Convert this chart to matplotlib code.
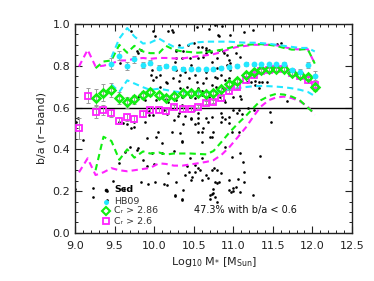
import matplotlib
matplotlib.use("Agg")
import matplotlib.pyplot as plt
from matplotlib.ticker import MultipleLocator

plt.rcParams['font.family'] = ['DejaVu Sans']

# ---------------- data ----------------
mass_bins = [9.05, 9.16, 9.26, 9.36, 9.46, 9.56, 9.66, 9.75, 9.86, 9.95, 10.06,
             10.15, 10.25, 10.36, 10.46, 10.55, 10.66, 10.75, 10.85, 10.95, 11.05,
             11.16, 11.26, 11.35, 11.45, 11.54, 11.64, 11.74, 11.84, 11.94, 12.03]

# C_r > 2.6 (magenta squares), all bins
mag_med = [0.500, 0.657, 0.580, 0.589, 0.573, 0.537, 0.553, 0.547, 0.569, 0.589, 0.590,
           0.584, 0.604, 0.593, 0.593, 0.604, 0.623, 0.628, 0.646, 0.678, 0.699,
           0.731, 0.755, 0.774, 0.781, 0.783, 0.783, 0.764, 0.753, 0.732, 0.707]
mag_err = [0.050, 0.035, 0.030, 0.025, 0.020, 0.018, 0.016, 0.015, 0.013, 0.012, 0.011,
           0.010, 0.010, 0.009, 0.009, 0.008, 0.008, 0.008, 0.008, 0.008, 0.008,
           0.008, 0.008, 0.008, 0.008, 0.008, 0.009, 0.010, 0.012, 0.015, 0.020]
mag_hi = [0.796, 0.876, 0.796, 0.800, 0.810, 0.825, 0.825, 0.833, 0.837, 0.833, 0.837,
          0.837, 0.835, 0.835, 0.840, 0.845, 0.850, 0.855, 0.865, 0.880, 0.890,
          0.895, 0.900, 0.900, 0.900, 0.898, 0.890, 0.880, 0.878, 0.880, 0.810]
mag_lo = [0.290, 0.357, 0.277, 0.290, 0.310, 0.300, 0.295, 0.300, 0.306, 0.311, 0.333,
          0.330, 0.322, 0.322, 0.328, 0.333, 0.340, 0.348, 0.373, 0.410, 0.455,
          0.505, 0.560, 0.605, 0.635, 0.648, 0.652, 0.645, 0.630, 0.605, 0.565]

# C_r > 2.86 (green diamonds), from bin 9.26
grn_med = [0.647, 0.671, 0.684, 0.646, 0.625, 0.640, 0.660, 0.675, 0.659, 0.646,
           0.657, 0.671, 0.668, 0.668, 0.667, 0.668, 0.689, 0.713, 0.729, 0.754,
           0.770, 0.780, 0.783, 0.785, 0.785, 0.767, 0.757, 0.745, 0.697]
grn_err = [0.040, 0.040, 0.035, 0.030, 0.025, 0.022, 0.020, 0.018, 0.016, 0.014,
           0.013, 0.012, 0.011, 0.010, 0.010, 0.010, 0.010, 0.010, 0.010, 0.010,
           0.010, 0.010, 0.010, 0.010, 0.010, 0.011, 0.012, 0.014, 0.020]
grn_hi = [0.788, 0.820, 0.825, 0.900, 0.862, 0.895, 0.868, 0.860, 0.860, 0.895,
          0.876, 0.868, 0.865, 0.862, 0.865, 0.870, 0.876, 0.885, 0.895, 0.900,
          0.902, 0.903, 0.900, 0.895, 0.885, 0.877, 0.877, 0.880, 0.810]
grn_lo = [0.300, 0.460, 0.440, 0.350, 0.400, 0.360, 0.390, 0.380, 0.385, 0.375,
          0.380, 0.380, 0.380, 0.378, 0.376, 0.392, 0.435, 0.480, 0.520, 0.560,
          0.600, 0.635, 0.655, 0.665, 0.662, 0.652, 0.635, 0.600, 0.570]

# HB09 (cyan circles), from bin 9.46
cyn_med = [0.810, 0.847, 0.800, 0.830, 0.805, 0.815, 0.791, 0.800, 0.788, 0.783,
           0.786, 0.782, 0.782, 0.783, 0.790, 0.795, 0.800, 0.806, 0.806, 0.807,
           0.807, 0.807, 0.807, 0.780, 0.770, 0.804, 0.753]
cyn_err = [0.025, 0.022, 0.020, 0.018, 0.015, 0.013, 0.012, 0.010, 0.010, 0.009,
           0.008, 0.008, 0.008, 0.008, 0.008, 0.008, 0.008, 0.008, 0.008, 0.008,
           0.008, 0.008, 0.009, 0.010, 0.012, 0.015, 0.020]
cyn_hi = [0.840, 0.930, 0.980, 0.940, 0.906, 0.910, 0.930, 0.910, 0.890, 0.885,
          0.905, 0.912, 0.915, 0.915, 0.915, 0.915, 0.912, 0.910, 0.910, 0.908,
          0.905, 0.900, 0.895, 0.890, 0.885, 0.885, 0.868]
cyn_lo = [0.710, 0.675, 0.730, 0.715, 0.697, 0.684, 0.690, 0.684, 0.677, 0.672,
          0.671, 0.672, 0.674, 0.675, 0.678, 0.685, 0.692, 0.698, 0.702, 0.703,
          0.702, 0.700, 0.697, 0.692, 0.685, 0.675, 0.655]

# Scd galaxies (black points): log mass, b/a
scd_mass = [
    9.71, 9.78, 9.80, 9.83, 9.57, 9.97, 9.96, 9.99, 10.02, 10.07, 10.15, 10.24, 10.31,
    10.33, 10.35, 10.03, 10.15, 10.18, 10.28, 10.35, 10.35, 9.99, 10.18, 10.24, 10.28,
    10.36, 10.35, 10.01, 9.80, 9.88, 10.16, 10.07, 10.26, 10.28, 10.33, 10.22, 10.28,
    10.31, 10.28,
    9.04, 9.01, 9.61, 9.66, 9.71, 9.75, 9.74, 9.56, 9.88, 9.99, 9.93, 9.94, 10.03,
    10.33, 10.22, 10.35, 10.30, 10.25, 10.36, 10.10, 9.10, 10.05, 9.91, 10.16, 10.12,
    9.00, 9.23, 9.23, 9.40, 9.40, 9.48, 9.55, 9.63, 9.69, 9.78, 9.80, 9.97, 10.10,
    9.91, 10.00, 9.84, 9.92, 10.01, 10.12, 10.16, 10.27, 10.35, 10.18, 10.28, 10.39,
    10.37, 10.26, 10.35, 9.86, 10.25, 9.62,
    10.54, 10.69, 10.77, 10.82, 10.86, 10.96, 11.13, 10.81, 11.25, 10.50, 10.55, 10.65,
    10.66, 10.72, 10.82, 10.88, 11.03, 11.08, 10.43, 10.60, 10.69, 10.87, 10.66, 10.45,
    10.55, 10.62, 10.73, 10.80, 10.94, 10.92, 10.96, 10.80, 10.47, 10.52, 10.56, 10.66,
    10.79, 10.39, 10.65, 10.77, 10.94, 10.44, 10.54, 10.62, 10.73, 10.78, 10.45, 10.52,
    10.60, 10.83, 10.90, 10.69, 10.88, 11.00, 11.05, 11.10, 11.08, 10.92, 10.96, 10.85,
    10.90, 10.87, 11.17, 11.17, 10.41, 10.47, 10.60,
    11.22, 11.27, 11.32, 11.43, 11.36, 11.32, 11.27, 11.55, 11.60, 11.68,
    10.50, 10.55, 10.56, 10.46, 10.52, 10.60, 10.71, 10.75, 10.86, 10.84, 10.90, 10.95,
    11.00, 11.05, 11.07, 11.11, 11.18, 10.98, 11.07, 11.26, 10.31, 10.39, 10.47, 10.56,
    10.73, 10.66, 10.85, 10.95, 11.46, 11.48, 10.68, 10.73, 10.62, 10.56, 10.61, 10.90,
    10.35,
    10.98, 11.09, 11.12, 11.34, 11.45, 11.25, 11.14, 11.09, 11.04, 11.00, 10.94, 11.06,
    10.84, 10.80, 10.79, 10.75, 10.71, 10.80, 10.71, 10.61, 10.58, 10.52, 10.46, 10.48,
    10.44, 10.66, 10.52, 10.55, 10.68, 10.73, 10.76, 10.77, 10.82, 10.94, 10.97, 11.00,
    11.13, 10.77, 10.73, 10.75, 10.42, 10.45, 10.60]
scd_ba = [
    0.968, 0.872, 0.860, 0.876, 0.812, 0.780, 0.756, 0.732, 0.745, 0.700, 0.724, 0.740,
    0.728, 0.756, 0.788, 0.636, 0.640, 0.625, 0.636, 0.652, 0.612, 0.968, 0.967, 0.960,
    0.868, 0.868, 0.836, 0.943, 0.649, 0.636, 0.716, 0.756, 0.820, 0.780, 0.692, 0.971,
    0.876, 0.900, 0.836,
    0.549, 0.533, 0.528, 0.522, 0.500, 0.509, 0.533, 0.531, 0.533, 0.565, 0.565, 0.584,
    0.461, 0.477, 0.485, 0.437, 0.560, 0.540, 0.520, 0.429, 0.445, 0.485, 0.453, 0.570,
    0.590,
    0.209, 0.171, 0.214, 0.158, 0.202, 0.250, 0.333, 0.389, 0.413, 0.397, 0.405, 0.381,
    0.381, 0.319, 0.330, 0.246, 0.234, 0.246, 0.234, 0.230, 0.177, 0.161, 0.285, 0.246,
    0.278, 0.206, 0.182, 0.158, 0.350, 0.390, 0.210,
    0.987, 0.975, 0.995, 0.943, 0.990, 0.947, 0.963, 0.947, 0.971, 0.908, 0.890, 0.876,
    0.860, 0.865, 0.876, 0.860, 0.860, 0.840, 0.900, 0.891, 0.876, 0.868, 0.884, 0.836,
    0.838, 0.840, 0.820, 0.835, 0.828, 0.804, 0.780, 0.790, 0.804, 0.756, 0.692, 0.740,
    0.740, 0.772, 0.770, 0.748, 0.740, 0.740, 0.724, 0.716, 0.708, 0.700, 0.652, 0.645,
    0.660, 0.652, 0.628, 0.652, 0.636, 0.652, 0.692, 0.640, 0.655, 0.852, 0.812, 0.756,
    0.732, 0.692, 0.812, 0.724, 0.700, 0.680, 0.680,
    0.724, 0.727, 0.724, 0.724, 0.720, 0.692, 0.710, 0.904, 0.910, 0.632,
    0.589, 0.575, 0.549, 0.545, 0.520, 0.485, 0.461, 0.485, 0.557, 0.530, 0.545, 0.557,
    0.589, 0.575, 0.589, 0.570, 0.597, 0.485, 0.485, 0.589, 0.573, 0.560, 0.549, 0.525,
    0.557, 0.550, 0.573, 0.525, 0.580, 0.533, 0.533, 0.461, 0.500, 0.485, 0.437, 0.413,
    0.440,
    0.365, 0.381, 0.341, 0.368, 0.269, 0.182, 0.290, 0.198, 0.219, 0.202, 0.254, 0.257,
    0.285, 0.300, 0.238, 0.190, 0.182, 0.150, 0.162, 0.254, 0.301, 0.325, 0.254, 0.270,
    0.290, 0.275, 0.290, 0.310, 0.262, 0.300, 0.310, 0.246, 0.246, 0.206, 0.195, 0.215,
    0.246, 0.174, 0.185, 0.210, 0.320, 0.360, 0.360]

ba_cut = 0.6
frac_text = "47.3% with b/a < 0.6"
legend_labels = ["Scd", "HB09", "C\u1d63 > 2.86", "C\u1d63 > 2.6"]

# ---------------- style ----------------
CYAN = '#22e8ff'
GREEN = '#11ee11'
MAG = '#ff22ff'
GREY = '#9a9a9a'
dash = (0, (3.0, 2.0))

fig = plt.figure(figsize=(3.74, 2.81), dpi=100)
ax = fig.add_axes([0.2005, 0.171, 0.7406, 0.744])

# scatter
ax.plot(scd_mass, scd_ba, 'o', color='black', ms=1.9, mew=0, zorder=2)

# dashed envelopes
mb = mass_bins
LW = 1.5
ax.plot(mb, mag_hi, color=MAG, lw=LW, ls=dash, zorder=3)
ax.plot(mb, mag_lo, color=MAG, lw=LW, ls=dash, zorder=3)
ax.plot(mb[2:], grn_hi, color=GREEN, lw=LW, ls=dash, zorder=3)
ax.plot(mb[2:], grn_lo, color=GREEN, lw=LW, ls=dash, zorder=3)
ax.plot(mb[4:], cyn_hi, color=CYAN, lw=LW, ls=dash, zorder=3)
ax.plot(mb[4:], cyn_lo, color=CYAN, lw=LW, ls=dash, zorder=3)

# horizontal line
ax.axhline(ba_cut, color='black', lw=1.0, zorder=2.5)

# medians with error bars
for xs, ys, es in ((mb, mag_med, mag_err), (mb[2:], grn_med, grn_err),
                   (mb[4:], cyn_med, cyn_err)):
    ax.errorbar(xs, ys, yerr=es, fmt='none', ecolor=GREY, elinewidth=0.7,
                capsize=1.5, capthick=0.7, zorder=4)
ax.plot(mb, mag_med, 's', mfc='none', mec=MAG, mew=1.3, ms=5.0, zorder=5)
ax.plot(mb[2:], grn_med, 'D', mfc='none', mec=GREEN, mew=1.8, ms=4.2, zorder=6)
ax.plot(mb[4:], cyn_med, 'o', mfc=CYAN, mec=CYAN, mew=0, ms=4.2, zorder=7)

# legend (manual)
tr = ax.transAxes
lx, tx = 0.112, 0.142
ly = [0.206, 0.150, 0.105, 0.057]
ax.plot([lx], [ly[0]], 'o', color='black', ms=2.6, mew=0, transform=tr)
ax.plot([lx], [ly[1]], 'o', mfc=CYAN, mec=CYAN, ms=3.6, mew=0, transform=tr)
ax.plot([lx], [ly[2]], 'D', mfc='none', mec=GREEN, mew=1.5, ms=3.6, transform=tr)
ax.plot([lx], [ly[3]], 's', mfc='none', mec=MAG, mew=1.3, ms=4.6, transform=tr)
ax.text(tx, ly[0], legend_labels[0], transform=tr, fontsize=6.8, fontweight='bold',
        color='black', va='center', ha='left')
for lab, yy in zip(legend_labels[1:], ly[1:]):
    ax.text(tx, yy, lab, transform=tr, fontsize=6.8, color='#333333',
            va='center', ha='left')
ax.text(0.428, 0.110, frac_text, transform=tr, fontsize=7, color='#111111',
        va='center', ha='left')

# axes
ax.set_xlim(9.0, 12.5)
ax.set_ylim(0.0, 1.0)
ax.xaxis.set_major_locator(MultipleLocator(0.5))
ax.xaxis.set_minor_locator(MultipleLocator(0.1))
ax.yaxis.set_major_locator(MultipleLocator(0.2))
ax.yaxis.set_minor_locator(MultipleLocator(0.05))
ax.tick_params(which='both', direction='in', top=True, right=True, color='#222222')
ax.tick_params(which='major', length=5, width=0.8)
ax.tick_params(which='minor', length=2.5, width=0.7)
ax.tick_params(axis='x', which='major', pad=6, labelsize=8, labelcolor='#222222')
ax.tick_params(axis='y', which='major', pad=3.5, labelsize=8, labelcolor='#222222')
ax.xaxis.set_major_formatter(matplotlib.ticker.FormatStrFormatter('%.1f'))
ax.yaxis.set_major_formatter(matplotlib.ticker.FormatStrFormatter('%.1f'))
for s in ax.spines.values():
    s.set_linewidth(1.0)
    s.set_color('#222222')

ax.set_ylabel('b/a (r\u2212band)', fontsize=8, color='#222222', labelpad=4)
ax.set_xlabel(r'Log$_{10}$ M$_{*}$ [M$_{\rm Sun}$]', fontsize=8, color='#222222',
              labelpad=3)

fig.savefig('out.png', dpi=100)
